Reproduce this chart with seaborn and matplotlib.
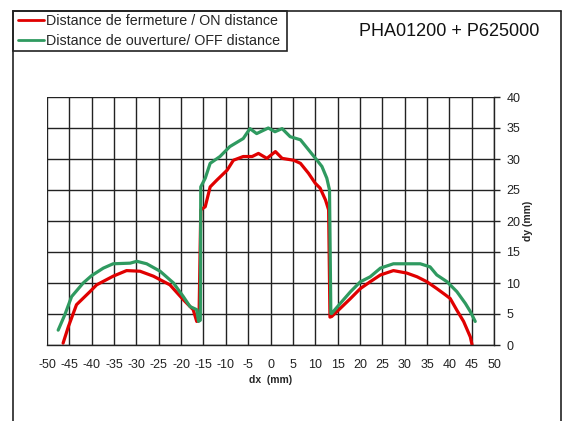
import matplotlib
matplotlib.use("Agg")
import matplotlib.pyplot as plt
from matplotlib.lines import Line2D
from matplotlib.patches import Rectangle
import seaborn as sns
import pandas as pd

# ON distance (red) - one continuous trace
on_dx = [-46.4, -45.2, -43.4, -40.4, -38.9, -35.2, -32.2, -29.2, -26.2, -22.5, -19.5, -17.3, -16.5,
         -16.0, -15.6, -14.6, -13.5, -12.0, -9.7, -8.3, -6.1, -4.1, -2.7, -0.8, 1.1, 2.6, 5.2, 6.7,
         8.5, 10.0, 11.1, 12.3, 13.0, 13.3, 13.7, 15.6, 17.9, 20.1, 22.3, 24.6, 27.5, 30.5, 32.8,
         35.0, 37.2, 39.1, 40.2, 41.7, 43.2, 44.7, 45.1]
on_dy = [0.3, 3.0, 6.5, 8.6, 9.7, 11.1, 12.0, 11.9, 11.1, 9.7, 7.3, 5.7, 3.8,
         4.0, 21.8, 22.3, 25.5, 26.6, 28.2, 29.8, 30.4, 30.4, 30.9, 30.1, 31.2, 30.1, 29.8, 29.3,
         27.7, 26.1, 25.3, 23.4, 21.8, 4.5, 4.6, 5.9, 7.5, 9.1, 10.2, 11.3, 12.0, 11.6, 11.0,
         10.2, 9.1, 8.1, 7.5, 5.6, 3.8, 1.3, 0.0]

# OFF distance (green) - one continuous trace
off_dx = [-47.5, -46.0, -44.5, -41.9, -40.0, -37.4, -35.2, -31.4, -29.9, -27.7, -24.7, -21.7, -19.5,
          -18.0, -16.5, -16.1, -15.7, -15.6, -14.6, -13.5, -11.3, -9.1, -6.1, -4.6, -3.1, -0.5,
          1.0, 2.6, 4.4, 6.7, 8.5, 10.4, 11.5, 12.6, 13.2, 13.5, 13.7, 15.6, 17.9, 20.1, 22.3,
          24.6, 27.5, 31.2, 33.5, 35.7, 37.2, 39.5, 41.7, 43.6, 44.7, 45.8]
off_dy = [2.4, 4.9, 7.8, 10.0, 11.2, 12.4, 13.1, 13.2, 13.5, 13.1, 11.9, 10.0, 7.8,
          6.2, 5.7, 3.8, 4.0, 25.5, 26.9, 29.3, 30.4, 32.0, 33.3, 34.9, 34.1, 35.0,
          34.4, 34.9, 33.6, 33.1, 31.5, 29.8, 28.8, 26.9, 25.0, 5.1, 5.1, 6.7, 8.6, 10.2, 11.0,
          12.4, 13.1, 13.1, 13.1, 12.6, 11.3, 10.2, 8.6, 6.7, 5.4, 3.8]

series_names = ["Distance de fermeture / ON distance", "Distance de ouverture/ OFF distance"]
series_colors = ["#e00000", "#2f9a60"]
x_ticks = list(range(-50, 51, 5))
y_ticks = list(range(0, 41, 5))

df = pd.concat([
    pd.DataFrame({"dx": on_dx, "dy": on_dy, "serie": series_names[0]}),
    pd.DataFrame({"dx": off_dx, "dy": off_dy, "serie": series_names[1]}),
])

sns.set_style("white")
plt.rcParams["font.family"] = ["Liberation Sans", "DejaVu Sans"]
plt.rcParams["axes.unicode_minus"] = False

W, H = 566, 421
fig = plt.figure(figsize=(W / 100, H / 100), dpi=100)
ax = fig.add_axes([47 / W, 1 - 345 / H, (494 - 47) / W, (345 - 97) / H])

sns.lineplot(data=df, x="dx", y="dy", hue="serie", units="serie", estimator=None, sort=False,
             palette=dict(zip(series_names, series_colors)), linewidth=2.3, ax=ax, legend=False)

ax.set_xlim(-50, 50)
ax.set_ylim(0, 40)
ax.set_xticks(x_ticks)
ax.set_yticks(y_ticks)
ax.grid(True, color="#222222", linewidth=1.0)
ax.set_axisbelow(True)
for s in ["top", "left"]:
    ax.spines[s].set_visible(False)
for s in ["bottom", "right"]:
    ax.spines[s].set_color("#222222")
    ax.spines[s].set_linewidth(1.0)
ax.yaxis.tick_right()
ax.yaxis.set_label_position("right")
ax.tick_params(axis="both", direction="out", length=4, width=1, color="#222222",
               labelsize=9, labelcolor="#222222", pad=5)
ax.tick_params(axis="x", pad=6)
ax.set_xlabel("dx  (mm)", fontsize=7.5, fontweight="bold", labelpad=3)
ax.set_ylabel("dy (mm)", fontsize=7.5, fontweight="bold", labelpad=2)

# outer frame
fx = lambda p: p / W
fy = lambda p: 1 - p / H
fig.add_artist(Line2D([fx(13), fx(13)], [fy(11), 0], color="#222222", lw=1.2, transform=fig.transFigure))
fig.add_artist(Line2D([fx(13), fx(561)], [fy(11), fy(11)], color="#222222", lw=1.2, transform=fig.transFigure))
fig.add_artist(Line2D([fx(561), fx(561)], [fy(11), 0], color="#222222", lw=1.2, transform=fig.transFigure))
# legend box
fig.add_artist(Rectangle((fx(13), fy(51)), fx(287) - fx(13), fy(11) - fy(51), fill=False,
                         edgecolor="#222222", lw=1.2, transform=fig.transFigure))
handles = [Line2D([0], [0], color=c, lw=2) for c in series_colors]
fig.legend(handles, series_names, loc="upper left", bbox_to_anchor=(fx(17), fy(13)),
           frameon=False, fontsize=10.3, handlelength=1.8, handletextpad=0.1,
           borderaxespad=0, borderpad=0.1, labelspacing=0.4)

fig.text(fx(449), fy(31), "PHA01200 + P625000", fontsize=13, ha="center", va="center", color="#111111")

fig.savefig("out.png", dpi=100)
